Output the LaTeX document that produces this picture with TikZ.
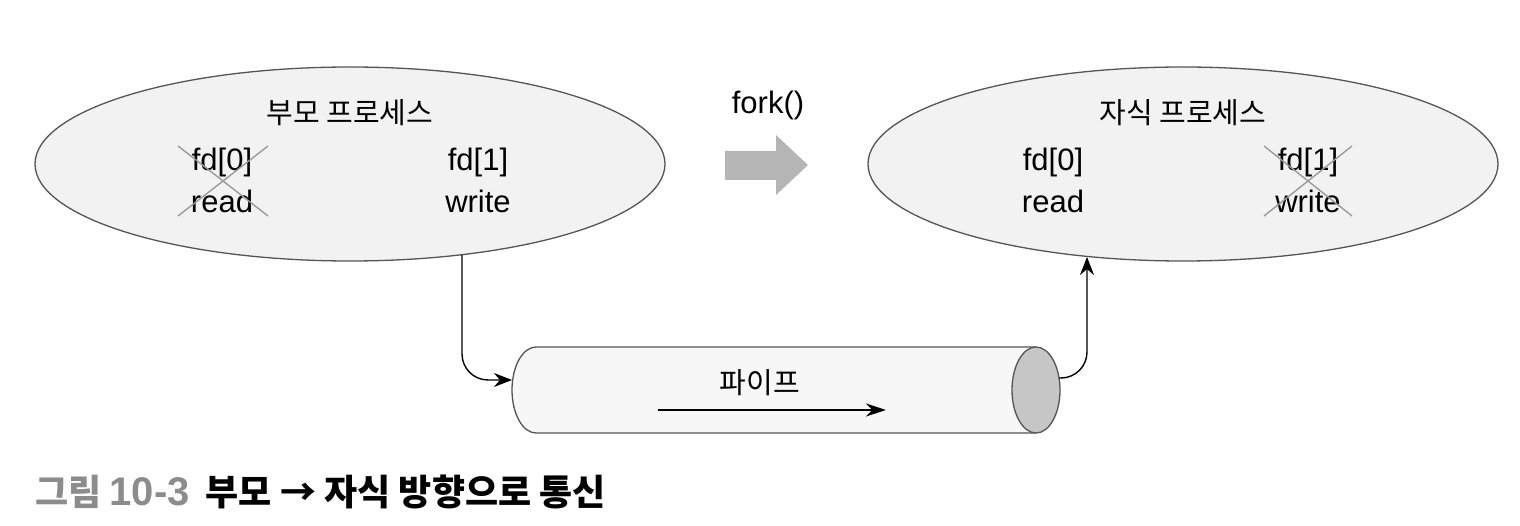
\documentclass[tikz,border=0pt]{standalone}
\usepackage{fontspec}
\setmainfont{Liberation Sans}
\newfontfamily\kr{Noto Sans CJK KR}
\usetikzlibrary{shapes.geometric,arrows.meta}
\definecolor{procfill}{HTML}{F2F2F2}
\definecolor{edge}{HTML}{555555}
\definecolor{pipefill}{HTML}{F7F7F7}
\definecolor{pipeend}{HTML}{C6C6C6}
\definecolor{blockgray}{HTML}{B5B5B5}
\definecolor{crossgray}{HTML}{9A9A9A}
\definecolor{capgray}{HTML}{8C8C8C}
\tikzset{
  proc/.style={ellipse, draw=edge, line width=1.3pt, fill=procfill, minimum width=630pt, minimum height=194pt, inner sep=0pt},
  lbl/.style={font=\fontsize{31}{33}\selectfont, inner sep=0pt, anchor=base},
  title/.style={font=\kr\fontsize{29}{31}\selectfont, inner sep=0pt, anchor=base},
  crossline/.style={draw=crossgray, line width=1.4pt},
  conn/.style={draw=black, line width=1.4pt, rounded corners=26pt, -{Stealth[length=18pt,width=14pt]}},
}
\begin{document}
\begin{tikzpicture}[x=1pt,y=-1pt]
\useasboundingbox (0,0) rectangle (1520,526);
% processes
\node[proc] (parent) at (350,164) {};
\node[proc] (child) at (1183,164) {};
\node[title] (pt) at (350,124) {부모 프로세스};
\node[title] (ct) at (1183,124) {자식 프로세스};
\node[lbl] (p0) at (222,171) {fd[0]};
\node[lbl] (pr) at (222,213) {read};
\node[lbl] (p1) at (478,171) {fd[1]};
\node[lbl] (pw) at (478,213) {write};
\node[lbl] (c0) at (1053,171) {fd[0]};
\node[lbl] (cr) at (1053,213) {read};
\node[lbl] (c1) at (1308,171) {fd[1]};
\node[lbl] (cw) at (1308,213) {write};
% crosses
\draw[crossline] (178,146) -- (268,216);
\draw[crossline] (268,146) -- (178,216);
\draw[crossline] (1264,146) -- (1352,216);
\draw[crossline] (1352,146) -- (1264,216);
% fork
\node[font=\fontsize{31}{33}\selectfont, inner sep=0pt, anchor=base] (fork) at (768,114) {fork()};
\fill[blockgray] (725,151) -- (776,151) -- (776,135) -- (808,165) -- (776,195) -- (776,180) -- (725,180) -- cycle;
% pipe
\fill[pipefill] (536,347) -- (1036,347) -- (1036,433) -- (536,433) arc[start angle=270, end angle=90, x radius=24, y radius=-43] -- cycle;
\draw[edge, line width=1.3pt] (1036,347) -- (536,347) arc[start angle=90, end angle=270, x radius=24, y radius=-43] -- (1036,433);
\draw[edge, line width=1.3pt, fill=pipeend] (1036,390) ellipse[x radius=24, y radius=43];
\node[title] (pipe) at (760,393) {파이프};
\coordinate (fa) at (658,410);
\coordinate (fb) at (886,410);
\draw[line width=1.6pt, -{Stealth[length=20pt,width=13pt]}] (fa) -- (fb);
% connectors
\coordinate (pout) at (462,255);
\coordinate (pin) at (512,380);
\coordinate (pipeout) at (1059,378);
\coordinate (cin) at (1087,257);
\draw[conn] (pout) |- (pin);
\draw[conn] (pipeout) -| (cin);
% caption
\node[font=\kr\bfseries\fontsize{36}{38}\selectfont, inner sep=0pt, anchor=base west] (cap) at (35,505) {\textcolor{capgray}{그림 {\normalfont\bfseries\fontsize{40}{42}\selectfont 10-3}}\hspace{16pt}부모 → 자식 방향으로 통신};
\end{tikzpicture}
\end{document}
